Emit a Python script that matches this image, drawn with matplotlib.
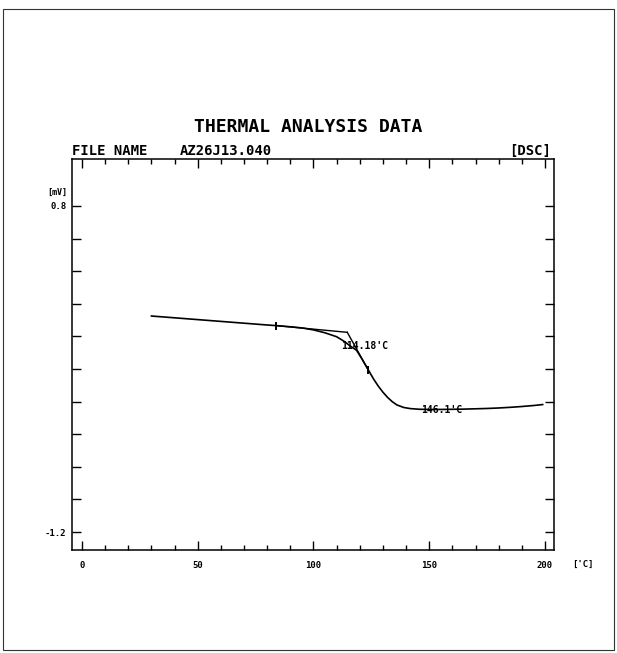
import matplotlib.pyplot as plt
from matplotlib.patches import Rectangle
from matplotlib.ticker import MultipleLocator, FixedLocator, FixedFormatter

# DSC trace (temperature in C, signal in mV)
temperature = [30, 40, 50, 60, 70, 80, 84, 90, 95, 100, 105, 110, 113, 116,
               118.6, 121, 123.7, 126, 128, 130, 132, 134, 136, 139, 142,
               146, 150, 155, 160, 165, 170, 175, 180, 185, 190, 195, 199]
signal = [0.125, 0.114, 0.103, 0.092, 0.081, 0.070, 0.066, 0.059, 0.052,
          0.040, 0.022, -0.002, -0.028, -0.060, -0.085, -0.140, -0.206,
          -0.262, -0.305, -0.342, -0.374, -0.400, -0.420, -0.436, -0.443,
          -0.447, -0.448, -0.448, -0.447, -0.446, -0.444, -0.442, -0.439,
          -0.435, -0.430, -0.424, -0.418]

# tangent construction used for the onset
baseline_t = [84, 114.6]
baseline_v = [0.066, 0.025]
slope_t = [114.6, 123.7]
slope_v = [0.025, -0.206]
marker_t = [84, 123.7]
marker_v = [0.066, -0.206]

onset_label = "114.18'C"
endset_label = "146.1'C"
onset_pos = (112, -0.06)
endset_pos = (146.5, -0.452)

x_labels = [0, 50, 100, 150, 200]
y_ticks = [-1.2, -1.0, -0.8, -0.6, -0.4, -0.2, 0.0, 0.2, 0.4, 0.6, 0.8]
y_labels = ["-1.2", "", "", "", "", "", "", "", "", "", "0.8"]

W, H = 617, 653
font = "DejaVu Sans Mono"

fig = plt.figure(figsize=(W / 100, H / 100), dpi=100)
ax = fig.add_axes([72 / W, 1 - 550 / H, (554 - 72) / W, (550 - 159) / H])

ax.plot(temperature, signal, color="black", lw=1.2)
ax.plot(baseline_t, baseline_v, color="black", lw=1.0)
ax.plot(slope_t, slope_v, color="black", lw=1.0)
ax.plot(marker_t, marker_v, ls="none", marker="|", ms=6, mew=1.4, color="black")

ax.text(onset_pos[0], onset_pos[1], onset_label, fontsize=7, fontweight="bold",
        family=font, va="center", ha="left")
ax.text(endset_pos[0], endset_pos[1], endset_label, fontsize=7, fontweight="bold",
        family=font, va="center", ha="left")

ax.set_xlim(-4.3, 203.9)
ax.set_ylim(-1.31, 1.088)

# plotter style ticks: all inward, on every side
ax.xaxis.set_major_locator(FixedLocator(x_labels))
ax.xaxis.set_minor_locator(MultipleLocator(10))
ax.yaxis.set_major_locator(FixedLocator(y_ticks))
ax.yaxis.set_major_formatter(FixedFormatter(y_labels))
ax.tick_params(which="both", direction="in", top=True, right=True, width=1.0,
               color="black")
ax.tick_params(axis="x", which="major", length=6.5, pad=8)
ax.tick_params(axis="x", which="minor", length=3.6)
ax.tick_params(axis="y", which="major", length=6.5, pad=4)
for lab in ax.get_xticklabels() + ax.get_yticklabels():
    lab.set_fontsize(6.5)
    lab.set_fontweight("bold")
    lab.set_family(font)
for sp in ax.spines.values():
    sp.set_linewidth(1.1)

# header and unit texts, placed in pixels
def px(x, y):
    return x / W, 1 - y / H

fig.text(*px(308, 127), "THERMAL ANALYSIS DATA", fontsize=13, fontweight="bold",
         family=font, ha="center", va="center")
fig.text(*px(72, 151), "FILE NAME", fontsize=10, fontweight="bold",
         family=font, ha="left", va="center")
fig.text(*px(180, 151), "AZ26J13.040", fontsize=10, fontweight="bold",
         family=font, ha="left", va="center")
fig.text(*px(551, 151), "[DSC]", fontsize=10, fontweight="bold",
         family=font, ha="right", va="center")
fig.text(*px(67, 192), "[mV]", fontsize=6, fontweight="bold",
         family=font, ha="right", va="center")
fig.text(*px(583, 564), "['C]", fontsize=6.5, fontweight="bold",
         family=font, ha="center", va="center")

# outer frame of the scanned page
fig.patches.append(Rectangle((3 / W, 1 - 650 / H), 611 / W, 641 / H,
                             transform=fig.transFigure, fill=False,
                             edgecolor="#333333", lw=0.8))

fig.savefig("out.png", dpi=100)
